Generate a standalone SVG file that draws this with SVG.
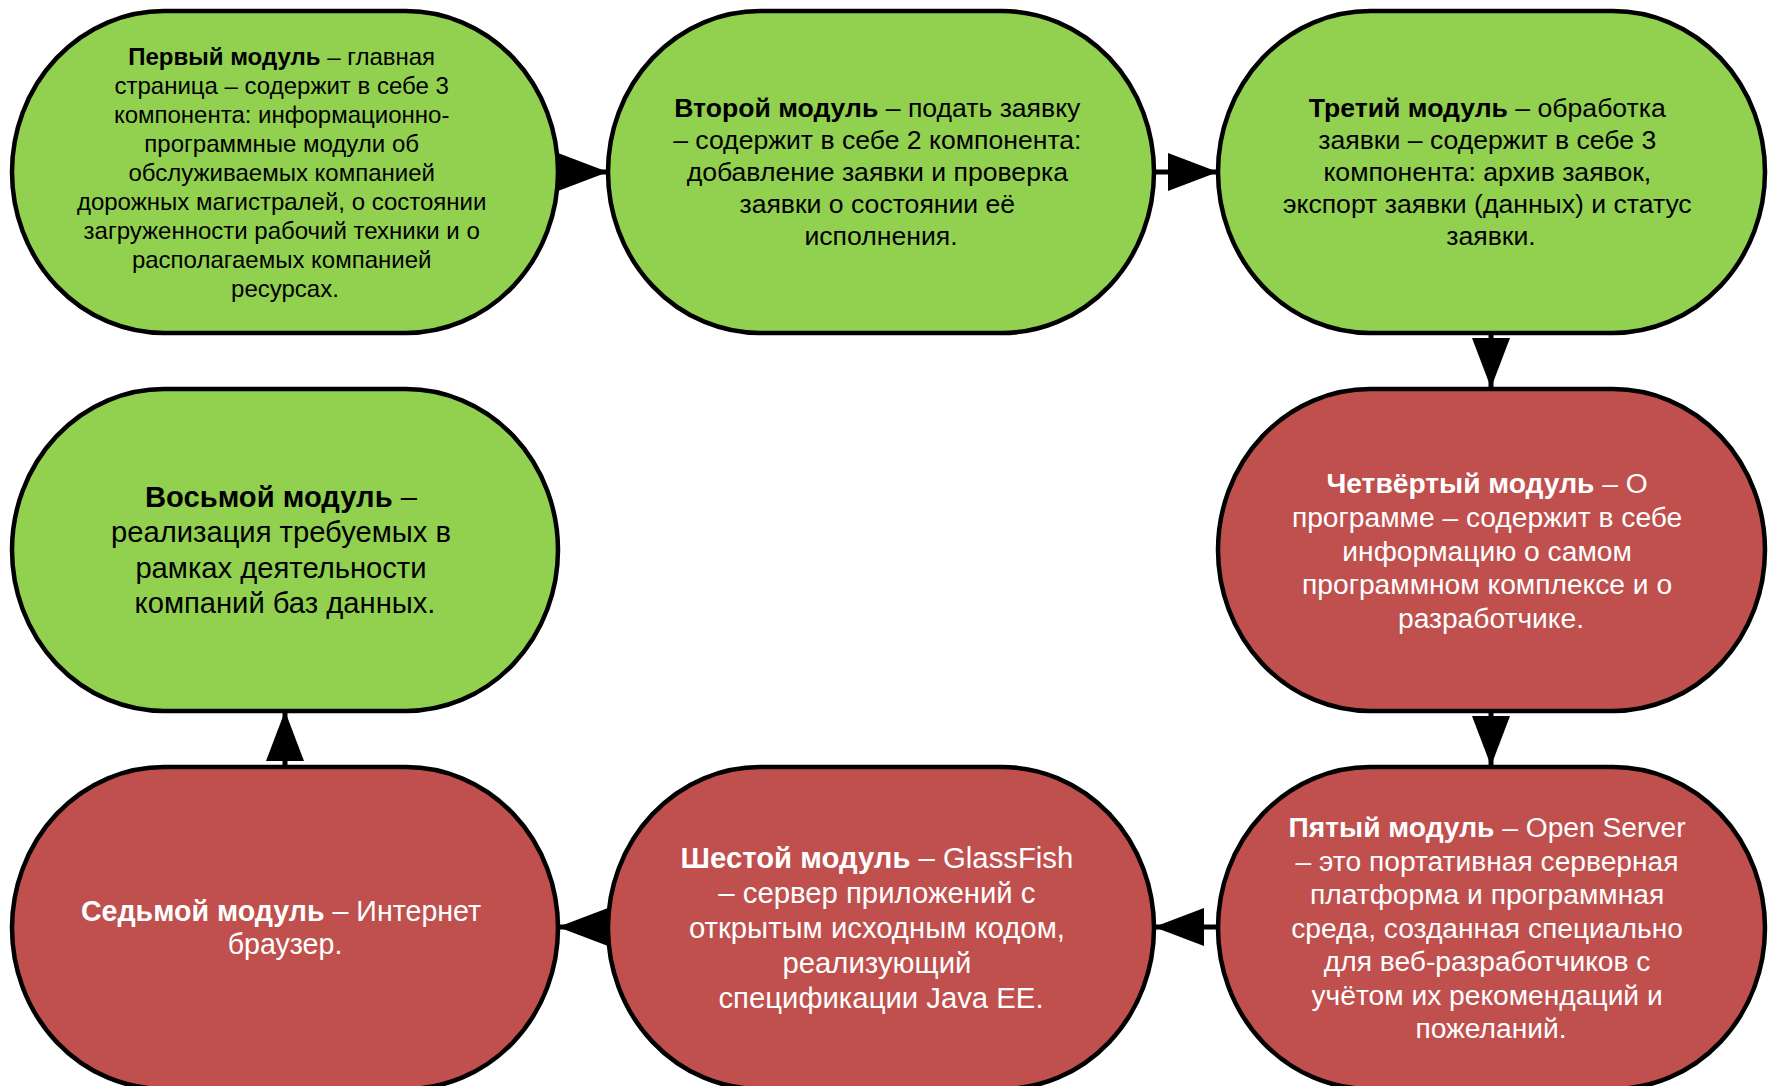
<svg xmlns="http://www.w3.org/2000/svg" width="1769" height="1086" viewBox="0 0 1769 1086">
<defs>
<style>
.node{stroke:#000;stroke-width:4.5}
.g{fill:#92D050}
.r{fill:#C0504D}
text{font-family:"Liberation Sans",Arial,sans-serif;text-anchor:middle}
.tb{fill:#000}
.tw{fill:#fff}
.b{font-weight:bold}
.conn{stroke:#000;stroke-width:5;fill:none}
</style>
<marker id="ah" markerUnits="userSpaceOnUse" markerWidth="50" markerHeight="38" refX="50" refY="19" orient="auto" viewBox="0 0 50 38">
<path d="M0,0 L50,19 L0,38 Z" fill="#000"/>
</marker>
</defs>
<rect width="1769" height="1086" fill="#fff"/>
<g id="connectors">
<path class="conn" d="M556,172 L608,172" marker-end="url(#ah)"/>
<path class="conn" d="M1154,172 L1218,172" marker-end="url(#ah)"/>
<path class="conn" d="M1491,333 L1491,388" marker-end="url(#ah)"/>
<path class="conn" d="M1491,711 L1491,766" marker-end="url(#ah)"/>
<path class="conn" d="M1218,927 L1154,927" marker-end="url(#ah)"/>
<path class="conn" d="M610,927 L558,927" marker-end="url(#ah)"/>
<path class="conn" d="M285,767 L285,711" marker-end="url(#ah)"/>
</g>
<g id="node1">
<rect class="node g" x="12" y="11" width="546" height="322" rx="152" ry="161"/>
<text class="tb" font-size="24">
<tspan x="285" y="65"><tspan class="b">Первый модуль</tspan> – главная</tspan>
<tspan x="285" y="94">страница – содержит в себе 3</tspan>
<tspan x="285" y="123">компонента: информационно-</tspan>
<tspan x="285" y="152">программные модули об</tspan>
<tspan x="285" y="181">обслуживаемых компанией</tspan>
<tspan x="285" y="210">дорожных магистралей, о состоянии</tspan>
<tspan x="285" y="239">загруженности рабочий техники и о</tspan>
<tspan x="285" y="268">располагаемых компанией</tspan>
<tspan x="285" y="297">ресурсах.</tspan>
</text>
</g>
<g id="node2">
<rect class="node g" x="608" y="11" width="546" height="322" rx="152" ry="161"/>
<text class="tb" font-size="26.6">
<tspan x="881" y="117"><tspan class="b">Второй модуль</tspan> – подать заявку</tspan>
<tspan x="881" y="149">– содержит в себе 2 компонента:</tspan>
<tspan x="881" y="181">добавление заявки и проверка</tspan>
<tspan x="881" y="213">заявки о состоянии её</tspan>
<tspan x="881" y="245">исполнения.</tspan>
</text>
</g>
<g id="node3">
<rect class="node g" x="1218" y="11" width="547" height="322" rx="152" ry="161"/>
<text class="tb" font-size="26.6">
<tspan x="1491" y="117"><tspan class="b">Третий модуль</tspan> – обработка</tspan>
<tspan x="1491" y="149">заявки – содержит в себе 3</tspan>
<tspan x="1491" y="181">компонента: архив заявок,</tspan>
<tspan x="1491" y="213">экспорт заявки (данных) и статус</tspan>
<tspan x="1491" y="245">заявки.</tspan>
</text>
</g>
<g id="node4">
<rect class="node r" x="1218" y="389" width="547" height="322" rx="152" ry="161"/>
<text class="tw" font-size="28.2">
<tspan x="1491" y="493"><tspan class="b">Четвёртый модуль</tspan> – О</tspan>
<tspan x="1491" y="527">программе – содержит в себе</tspan>
<tspan x="1491" y="561">информацию о самом</tspan>
<tspan x="1491" y="594">программном комплексе и о</tspan>
<tspan x="1491" y="628">разработчике.</tspan>
</text>
</g>
<g id="node5">
<rect class="node r" x="1218" y="767" width="547" height="322" rx="152" ry="161"/>
<text class="tw" font-size="28.2">
<tspan x="1491" y="837"><tspan class="b">Пятый модуль</tspan> – Open Server</tspan>
<tspan x="1491" y="870.5">– это портативная серверная</tspan>
<tspan x="1491" y="904">платформа и программная</tspan>
<tspan x="1491" y="937.5">среда, созданная специально</tspan>
<tspan x="1491" y="971">для веб-разработчиков с</tspan>
<tspan x="1491" y="1004.5">учётом их рекомендаций и</tspan>
<tspan x="1491" y="1038">пожеланий.</tspan>
</text>
</g>
<g id="node6">
<rect class="node r" x="608" y="767" width="546" height="322" rx="152" ry="161"/>
<text class="tw" font-size="29.3">
<tspan x="881" y="868"><tspan class="b">Шестой модуль</tspan> – GlassFish</tspan>
<tspan x="881" y="903">– сервер приложений с</tspan>
<tspan x="881" y="938">открытым исходным кодом,</tspan>
<tspan x="881" y="973">реализующий</tspan>
<tspan x="881" y="1008">спецификации Java EE.</tspan>
</text>
</g>
<g id="node7">
<rect class="node r" x="12" y="767" width="546" height="322" rx="152" ry="161"/>
<text class="tw" font-size="28.6">
<tspan x="285" y="921"><tspan class="b">Седьмой модуль</tspan> – Интернет</tspan>
<tspan x="285" y="954">браузер.</tspan>
</text>
</g>
<g id="node8">
<rect class="node g" x="12" y="389" width="546" height="322" rx="152" ry="161"/>
<text class="tb" font-size="29.2">
<tspan x="285" y="507"><tspan class="b">Восьмой модуль</tspan> –</tspan>
<tspan x="285" y="542">реализация требуемых в</tspan>
<tspan x="285" y="577.5">рамках деятельности</tspan>
<tspan x="285" y="613">компаний баз данных.</tspan>
</text>
</g>
</svg>
